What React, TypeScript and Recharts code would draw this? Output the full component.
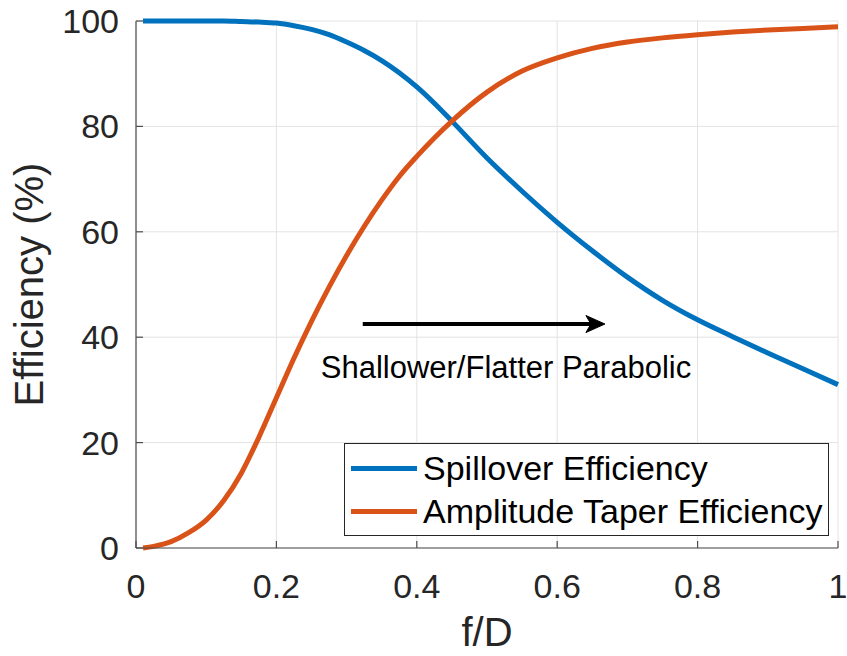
import React from 'react';
import {
  LineChart,
  Line,
  XAxis,
  YAxis,
  CartesianGrid,
  Legend,
  ReferenceLine,
  ReferenceDot,
} from 'recharts';

const fD = [0.01, 0.025, 0.05, 0.075, 0.1, 0.125, 0.15, 0.175, 0.2, 0.225, 0.25, 0.275, 0.3, 0.325, 0.35, 0.375, 0.4, 0.425, 0.45, 0.5, 0.55, 0.6, 0.65, 0.7, 0.75, 0.8, 0.85, 0.9, 0.95, 1.0];
const spillover = [100, 100, 100, 100, 100, 100, 99.9, 99.8, 99.6, 99.1, 98.4, 97.4, 96, 94.4, 92.5, 90.2, 87.5, 84.4, 81, 74, 67.7, 61.8, 56.4, 51.4, 47, 43.3, 40.1, 37, 34, 31];
const taper = [0, 0.3, 1.2, 2.9, 5.3, 9, 14.2, 21, 28.5, 36, 43, 49.5, 55.5, 61, 66, 70.5, 74.3, 77.8, 81, 86.5, 90.5, 93, 94.8, 96, 96.8, 97.4, 97.9, 98.3, 98.6, 98.9];

const xTicks = [0, 0.2, 0.4, 0.6, 0.8, 1];
const yTicks = [0, 20, 40, 60, 80, 100];

const seriesNames = ['Spillover Efficiency', 'Amplitude Taper Efficiency'];
const seriesColors = ['#0072BD', '#D95319'];

const annotationText = 'Shallower/Flatter Parabolic';
const arrowStart = { x: 0.323, y: 42.5 };
const arrowEnd = { x: 0.668, y: 42.5 };
const annotationPos = { x: 0.527, y: 32.3 };

const data = fD.map((x, i) => ({ x, spill: spillover[i], taper: taper[i] }));

const FONT = '"Liberation Sans", Arial, Helvetica, sans-serif';
const TEXT = '#262626';
const AXIS = '#4d4d4d';

const ArrowShape = (props: any) => {
  const { x1, y1, x2, y2 } = props;
  if (x1 == null || x2 == null) return null;
  const head = `M ${x2} ${y2} L ${x2 - 19} ${y2 - 8.5} L ${x2 - 14} ${y2} L ${x2 - 19} ${y2 + 8.5} Z`;
  return (
    <g>
      <line x1={x1} y1={y1} x2={x2 - 10} y2={y2} stroke="#000" strokeWidth={4} />
      <path d={head} fill="#000" stroke="#000" strokeWidth={1} strokeLinejoin="miter" />
    </g>
  );
};

const AnnotationText = (props: any) => {
  const { cx, cy } = props;
  if (cx == null) return null;
  return (
    <text x={cx} y={cy} textAnchor="middle" fontFamily={FONT} fontSize={31} fill="#000">
      {annotationText}
    </text>
  );
};

const LegendBox = (props: any) => {
  const payload = (props.payload || [])
    .filter((p: any) => seriesNames.includes(p.value))
    .sort((a: any, b: any) => seriesNames.indexOf(a.value) - seriesNames.indexOf(b.value));
  return (
    <div
      style={{
        position: 'relative',
        width: 485,
        height: 93,
        boxSizing: 'border-box',
        border: '1px solid #262626',
        background: '#fff',
        fontFamily: FONT,
      }}
    >
      {payload.map((p: any, i: number) => (
        <div
          key={p.value}
          style={{
            position: 'absolute',
            left: 6,
            top: 3 + i * 43,
            height: 43,
            display: 'flex',
            alignItems: 'center',
            whiteSpace: 'nowrap',
          }}
        >
          <div style={{ width: 66, height: 5, background: p.color, marginRight: 6 }} />
          <span style={{ fontSize: 34, lineHeight: '43px', color: '#000' }}>{p.value}</span>
        </div>
      ))}
    </div>
  );
};

const YLabel = (props: any) => {
  const vb = props.viewBox || {};
  const cy = vb.y + vb.height / 2;
  const x = 43;
  return (
    <text
      x={x}
      y={cy}
      transform={`rotate(-90 ${x} ${cy})`}
      textAnchor="middle"
      fontFamily={FONT}
      fontSize={40}
      fill={TEXT}
    >
      Efficiency (%)
    </text>
  );
};

export default function App() {
  return (
    <div style={{ position: 'absolute', left: 0, top: 0, background: '#fff' }}>
      <LineChart
        width={847}
        height={656}
        data={data}
        margin={{ top: 21, right: 9, bottom: 0, left: 0 }}
      >
        <CartesianGrid stroke="#e3e3e3" strokeWidth={1} />
        <XAxis
          dataKey="x"
          type="number"
          domain={[0, 1]}
          ticks={xTicks}
          interval={0}
          height={108}
          tickSize={-7}
          tickMargin={33}
          stroke={AXIS}
          axisLine={{ stroke: AXIS, strokeWidth: 1.2 }}
          tickLine={{ stroke: AXIS, strokeWidth: 1.2 }}
          tick={{ fontSize: 34, fontFamily: FONT, fill: TEXT }}
          label={{ value: 'f/D', position: 'insideBottom', offset: 10, fontSize: 40, fontFamily: FONT, fill: TEXT }}
        />
        <XAxis
          xAxisId="top"
          orientation="top"
          dataKey="x"
          type="number"
          domain={[0, 1]}
          ticks={xTicks}
          interval={0}
          height={0}
          tickSize={-7}
          tick={false}
          axisLine={{ stroke: AXIS, strokeWidth: 1.2 }}
          tickLine={{ stroke: AXIS, strokeWidth: 1.2 }}
        />
        <YAxis
          type="number"
          domain={[0, 100]}
          ticks={yTicks}
          interval={0}
          width={136}
          tickSize={-7}
          tickMargin={24}
          axisLine={{ stroke: AXIS, strokeWidth: 1.2 }}
          tickLine={{ stroke: AXIS, strokeWidth: 1.2 }}
          tick={{ fontSize: 34, fontFamily: FONT, fill: TEXT }}
          label={{ content: YLabel }}
        />
        <YAxis
          yAxisId="right"
          orientation="right"
          type="number"
          domain={[0, 100]}
          ticks={yTicks}
          interval={0}
          width={0}
          tickSize={-7}
          tick={false}
          axisLine={{ stroke: AXIS, strokeWidth: 1.2 }}
          tickLine={{ stroke: AXIS, strokeWidth: 1.2 }}
        />
        <Line
          type="monotone"
          dataKey="spill"
          name={seriesNames[0]}
          stroke={seriesColors[0]}
          strokeWidth={5}
          dot={false}
          activeDot={false}
          isAnimationActive={false}
        />
        <Line
          type="monotone"
          dataKey="taper"
          name={seriesNames[1]}
          stroke={seriesColors[1]}
          strokeWidth={5}
          dot={false}
          activeDot={false}
          isAnimationActive={false}
        />
        <ReferenceLine
          segment={[arrowStart, arrowEnd]}
          shape={ArrowShape}
          ifOverflow="visible"
        />
        <ReferenceDot
          x={annotationPos.x}
          y={annotationPos.y}
          r={0}
          shape={AnnotationText}
          ifOverflow="visible"
        />
        <Legend
          layout="horizontal"
          verticalAlign="middle"
          align="center"
          content={LegendBox}
          wrapperStyle={{ position: 'absolute', left: 344, top: 443, width: 485, height: 93 }}
        />
      </LineChart>
    </div>
  );
}
